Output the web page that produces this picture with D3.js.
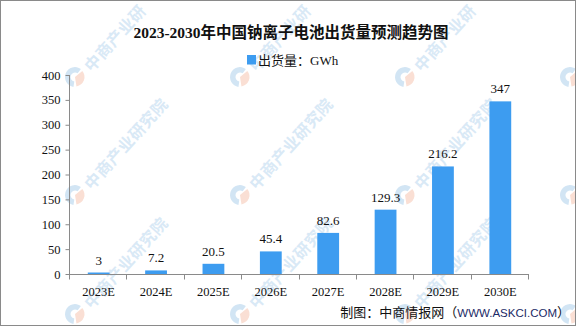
<!DOCTYPE html>
<html>
<head>
<meta charset="utf-8">
<script src="https://cdn.jsdelivr.net/npm/d3@7/dist/d3.min.js"></script>
<style>
  html, body { margin: 0; padding: 0; background: #fff; }
  svg { display: block; }
  .cn { font-family: "Noto Sans CJK SC", sans-serif; }
  .num { font-family: "Liberation Serif", "DejaVu Serif", serif; }
</style>
</head>
<body>
<svg id="chart" width="585" height="327"></svg>
<script>
// Sodium-ion battery shipments forecast (GWh)
const years = ["2023E", "2024E", "2025E", "2026E", "2027E", "2028E", "2029E", "2030E"];
const shipments = [3, 7.2, 20.5, 45.4, 82.6, 129.3, 216.2, 347];
const yTicks = [0, 50, 100, 150, 200, 250, 300, 350, 400];

const titleText = "2023-2030年中国钠离子电池出货量预测趋势图";
const legendText = "出货量：GWh";
const sourceLabel = "制图：中商情报网（";
const sourceUrl = "WWW.ASKCI.COM";
const sourceEnd = "）";
const watermarkText = "中商产业研究院";

const W = 585, H = 327;
const plot = { left: 70, right: 529, top: 75, bottom: 274 };
const barColor = "#3d9cf0";
const axisColor = "#8a8a8a";

const svg = d3.select("#chart");

svg.append("defs").append("clipPath").attr("id", "frameClip")
  .append("rect").attr("x", 1).attr("y", 1).attr("width", 574).attr("height", 324);

// background watermark pattern: logo plus a diagonal run of characters
const wm = svg.append("g").attr("class", "watermark").attr("clip-path", "url(#frameClip)");
const wmXs = [-90, 75, 240, 405, 570];
const wmYs = [77, 195, 314];
const logoArcBlue = d3.arc().innerRadius(4.5).outerRadius(10)
  .startAngle(Math.PI * 1.05).endAngle(Math.PI * 2.2);
const logoArcOrange = d3.arc().innerRadius(0).outerRadius(9.5)
  .startAngle(Math.PI * 0.28).endAngle(Math.PI * 0.95);
const wmAngle = -48, wmStep = 16.5;
const ca = Math.cos(wmAngle * Math.PI / 180), sa = Math.sin(wmAngle * Math.PI / 180);
const inside = (px, py, m) => px > m && px < 576 - m && py > m && py < 326 - m;
wmYs.forEach(cy => wmXs.forEach(cx => {
  const g = wm.append("g").attr("transform", `translate(${cx},${cy})`);
  g.append("path").attr("d", logoArcBlue()).attr("fill", "#d2e5f4");
  g.append("path").attr("d", logoArcOrange()).attr("fill", "#fadfd4");
  Array.from(watermarkText).forEach((ch, k) => {
    const px = cx + 9 + 8 + k * wmStep * ca;
    const py = cy - 9 + k * wmStep * sa - 6;
    if (!inside(px, py, 10)) return;
    wm.append("text")
      .attr("class", "cn")
      .attr("transform", `translate(${px},${py}) rotate(${wmAngle})`)
      .attr("font-size", 16)
      .attr("font-weight", 700)
      .attr("fill", "#d9e9f6")
      .attr("text-anchor", "middle")
      .attr("dominant-baseline", "central")
      .text(ch);
  });
}));

// outer frame
svg.append("rect")
  .attr("x", 0.5).attr("y", 0.5)
  .attr("width", 575).attr("height", 325)
  .attr("fill", "none")
  .attr("stroke", axisColor)
  .attr("stroke-width", 1);

// title
svg.append("text")
  .attr("x", 291).attr("y", 38)
  .attr("text-anchor", "middle")
  .attr("font-size", 15.5)
  .attr("font-weight", 700)
  .attr("fill", "#111")
  .call(t => {
    t.append("tspan").attr("class", "num").text(titleText.slice(0, 9));
    t.append("tspan").attr("class", "cn").text(titleText.slice(9));
  });

// legend
const legend = svg.append("g").attr("transform", "translate(247,55)");
legend.append("rect").attr("width", 9).attr("height", 9.5).attr("fill", barColor);
legend.append("text")
  .attr("x", 11).attr("y", 10)
  .attr("font-size", 13)
  .attr("fill", "#111")
  .call(t => {
    t.append("tspan").attr("class", "cn").text(legendText.slice(0, 4));
    t.append("tspan").attr("class", "num").text(legendText.slice(4));
  });

// scales
const x = d3.scaleBand().domain(years)
  .range([plot.left, plot.right])
  .paddingInner(0.62).paddingOuter(0.31);
const xStep = d3.scaleBand().domain(years).range([plot.left, plot.right]).padding(0);
const y = d3.scaleLinear().domain([0, 400]).range([plot.bottom, plot.top]);

// y axis
const yAxis = svg.append("g")
  .attr("transform", `translate(${plot.left - 0.5},0)`)
  .call(d3.axisLeft(y).tickValues(yTicks).tickSize(4).tickPadding(5).tickFormat(d3.format("d")));
yAxis.select(".domain").attr("stroke", axisColor).attr("d", `M0,${plot.top}V${plot.bottom}`);
yAxis.selectAll(".tick line").attr("stroke", axisColor);
yAxis.selectAll(".tick text")
  .attr("class", "num")
  .attr("font-size", 12.5)
  .attr("fill", "#111");

// bars
svg.append("g").selectAll("rect")
  .data(shipments)
  .join("rect")
  .attr("x", (d, i) => x(years[i]))
  .attr("y", d => y(d))
  .attr("width", x.bandwidth())
  .attr("height", d => y(0) - y(d))
  .attr("fill", barColor);

// value labels
svg.append("g").selectAll("text")
  .data(shipments)
  .join("text")
  .attr("class", "num")
  .attr("x", (d, i) => x(years[i]) + x.bandwidth() / 2)
  .attr("y", d => y(d) - 8)
  .attr("text-anchor", "middle")
  .attr("font-size", 13)
  .attr("fill", "#111")
  .text(d => d);

// x axis with ticks on category boundaries
const xAxisG = svg.append("g").attr("transform", `translate(0,${plot.bottom + 0.5})`);
xAxisG.append("line")
  .attr("x1", plot.left - 1).attr("x2", plot.right)
  .attr("stroke", axisColor);
const bounds = years.map(d => xStep(d)).concat([xStep(years[years.length - 1]) + xStep.bandwidth()]);
xAxisG.selectAll("line.tk")
  .data(bounds)
  .join("line")
  .attr("class", "tk")
  .attr("x1", d => Math.round(d) - 0.5).attr("x2", d => Math.round(d) - 0.5)
  .attr("y1", 0).attr("y2", 5)
  .attr("stroke", axisColor);
xAxisG.selectAll("text")
  .data(years)
  .join("text")
  .attr("class", "num")
  .attr("x", d => xStep(d) + xStep.bandwidth() / 2)
  .attr("y", 21)
  .attr("text-anchor", "middle")
  .attr("font-size", 12.5)
  .attr("fill", "#111")
  .text(d => d);

// source note
svg.append("text")
  .attr("x", 570).attr("y", 317)
  .attr("text-anchor", "end")
  .attr("font-size", 13)
  .attr("fill", "#111")
  .call(t => {
    t.append("tspan").attr("class", "cn").text(sourceLabel);
    t.append("tspan").attr("font-family", "Liberation Sans, Arial, sans-serif")
      .attr("font-size", 11.5).attr("fill", "#1b2a66").text(sourceUrl);
    t.append("tspan").attr("class", "cn").text(sourceEnd);
  });
</script>
</body>
</html>
